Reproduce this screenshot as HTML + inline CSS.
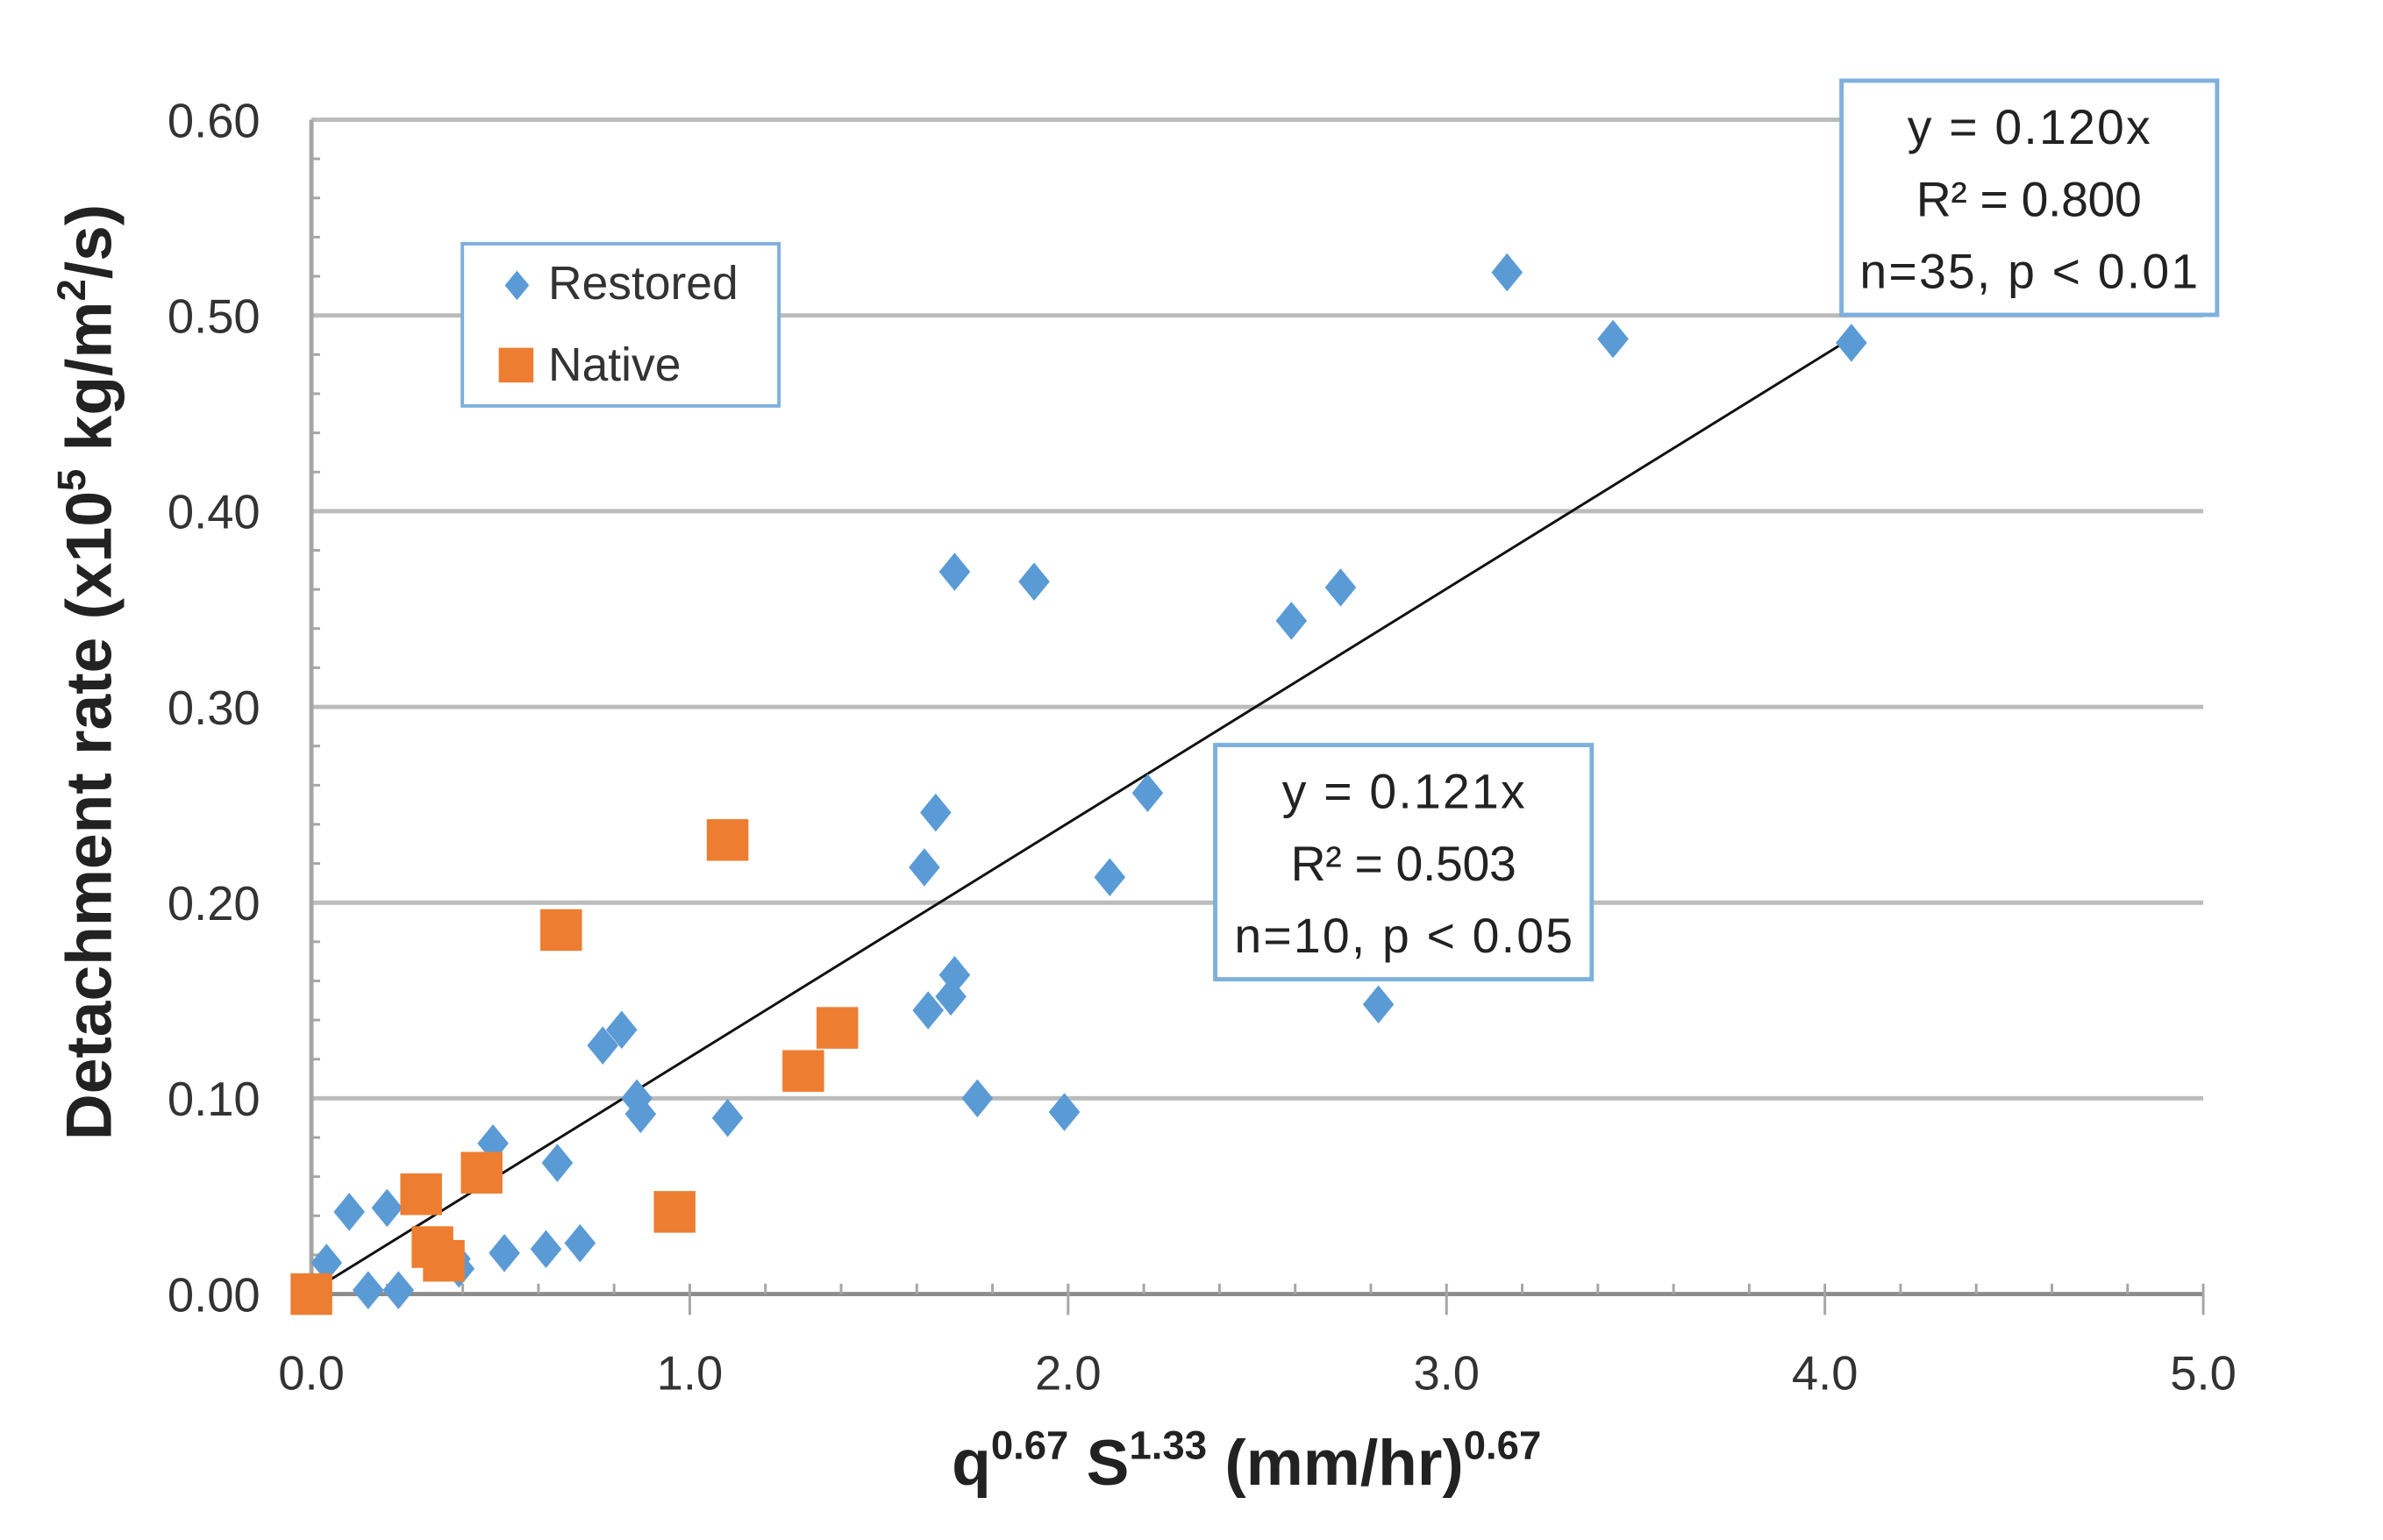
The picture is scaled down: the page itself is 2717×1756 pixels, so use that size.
<!DOCTYPE html>
<html><head><meta charset="utf-8"><style>
html,body{margin:0;padding:0;background:#fff}
svg{display:block;font-family:"Liberation Sans",sans-serif}
</style></head><body>
<svg id="chart" width="2717" height="1756" viewBox="0 0 2717 1756" xmlns="http://www.w3.org/2000/svg">
<g transform="scale(0.989)">
<g id="grid"></g>
<g id="axes"></g>
<g id="trend"></g>
<g id="pts"></g>
<text x="1437" y="1712" text-anchor="middle" font-size="74" font-weight="bold" fill="#222">q<tspan font-size="46" dy="-30">0.67</tspan><tspan dy="30"> S</tspan><tspan font-size="46" dy="-30">1.33</tspan><tspan dy="30"> (mm/hr)</tspan><tspan font-size="46" dy="-30">0.67</tspan></text>
<text transform="translate(128,775) rotate(-90)" text-anchor="middle" font-size="74" font-weight="bold" fill="#222">Detachment rate (x10<tspan font-size="46" dy="-30">5</tspan><tspan dy="30"> kg/m</tspan><tspan font-size="46" dy="-30">2</tspan><tspan dy="30">/s)</tspan></text>
<g>
<rect x="533" y="281" width="365" height="187" fill="#fff" stroke="#7fb0dd" stroke-width="4"/>
<path d="M596,312 l14,17 l-14,17 l-14,-17z" fill="#5b9bd5"/>
<text x="632" y="345" font-size="54" fill="#333">Restored</text>
<rect x="575" y="401" width="40" height="40" fill="#ed7d31"/>
<text x="632" y="439" font-size="54" fill="#333">Native</text>
</g>
<g>
<rect x="2123" y="93" width="433" height="270" fill="#fff" stroke="#7fb0dd" stroke-width="5"/>
<text x="2339" y="166" text-anchor="middle" font-size="56" fill="#222" textLength="280">y = 0.120x</text>
<text x="2339" y="249" text-anchor="middle" font-size="56" fill="#222" textLength="260">R² = 0.800</text>
<text x="2339" y="332" text-anchor="middle" font-size="56" fill="#222" textLength="390">n=35, p &lt; 0.01</text>
</g>
<g>
<rect x="1401" y="859" width="434" height="270" fill="#fff" stroke="#7fb0dd" stroke-width="5"/>
<text x="1618" y="932" text-anchor="middle" font-size="56" fill="#222" textLength="280">y = 0.121x</text>
<text x="1618" y="1015" text-anchor="middle" font-size="56" fill="#222" textLength="260">R² = 0.503</text>
<text x="1618" y="1098" text-anchor="middle" font-size="56" fill="#222" textLength="390">n=10, p &lt; 0.05</text>
</g>
</g>
</svg>
<script>
const restoredX=[3.16,3.44,4.07,1.70,1.91,2.72,2.59,2.21,1.65,1.62,2.11,1.70,1.69,1.63,2.82,0.82,0.77,0.86,0.87,1.76,1.99,1.10,0.48,0.65,0.10,0.20,0.51,0.62,0.71,0.04,0.39,0.15,0.23,0.38,0.0];
const restoredY=[0.522,0.488,0.486,0.369,0.364,0.361,0.344,0.256,0.246,0.218,0.213,0.163,0.152,0.145,0.148,0.135,0.127,0.100,0.092,0.100,0.093,0.090,0.077,0.067,0.042,0.044,0.021,0.023,0.026,0.016,0.013,0.002,0.002,0.018,0.0];
const nativeX=[1.10,0.66,1.39,1.30,0.45,0.29,0.96,0.32,0.35,0.0];
const nativeY=[0.232,0.186,0.136,0.114,0.062,0.051,0.042,0.024,0.017,0.0];
const xTicks=["0.0","1.0","2.0","3.0","4.0","5.0"];
const yTicks=["0.00","0.10","0.20","0.30","0.40","0.50","0.60"];
const trendSlope=0.120;
const trendXEnd=4.05;

const NS="http://www.w3.org/2000/svg";
const X0=359,X1=2540,Y0=1492,Y1=138;
const sx=v=>X0+(X1-X0)*v/5;
const sy=v=>Y0-(Y0-Y1)*v/0.6;
function mk(tag,attrs,parent){const e=document.createElementNS(NS,tag);for(const k in attrs)e.setAttribute(k,attrs[k]);parent.appendChild(e);return e;}
const grid=document.getElementById('grid'),axes=document.getElementById('axes'),pts=document.getElementById('pts'),trend=document.getElementById('trend');
yTicks.forEach((t,i)=>{const v=parseFloat(t);const y=sy(v);
 if(i>0){const l=mk('line',{x1:X0,x2:X1,y1:y,y2:y,stroke:'#bcbcbc','stroke-width':5},grid);
 
 }
 const tx=mk('text',{x:300,y:y+20,'text-anchor':'end','font-size':55,fill:'#333'},axes);tx.textContent=t;
 
 
});
for(let k=0;k<=60;k+=2){const y=sy(k/100);mk('line',{x1:X0,x2:X0+(k%10==0?0:10),y1:y,y2:y,stroke:'#a6a6a6','stroke-width':3},axes);}
mk('line',{x1:X0,x2:X0,y1:Y1,y2:Y0,stroke:'#a6a6a6','stroke-width':5},axes);
mk('line',{x1:X0,x2:X1,y1:Y0,y2:Y0,stroke:'#8c8c8c','stroke-width':5},axes);
for(let k=0;k<=25;k++){const x=sx(k*0.2);const maj=k%5==0;mk('line',{x1:x,x2:x,y1:Y0-12,y2:Y0+(maj?24:0),stroke:'#a6a6a6','stroke-width':3},axes);}
xTicks.forEach(t=>{const x=sx(parseFloat(t));const tx=mk('text',{x:x,y:1602,'text-anchor':'middle','font-size':55,fill:'#333'},axes);tx.textContent=t;
 
 });
const tl=mk('line',{x1:sx(0.01),y1:sy(0.01*trendSlope)-3,x2:sx(trendXEnd),y2:sy(trendXEnd*trendSlope),stroke:'#111','stroke-width':3},trend);


restoredX.forEach((xv,i)=>{const x=sx(xv),y=sy(restoredY[i]);
 const p=mk('path',{d:`M${x},${y-22} L${x+18},${y} L${x},${y+22} L${x-18},${y}Z`,fill:'#5b9bd5'},pts);
 
 });
nativeX.forEach((xv,i)=>{const x=sx(xv),y=sy(nativeY[i]);
 const r=mk('rect',{x:x-24,y:y-24,width:48,height:48,fill:'#ed7d31'},pts);
 
 });
</script>
</body></html>
